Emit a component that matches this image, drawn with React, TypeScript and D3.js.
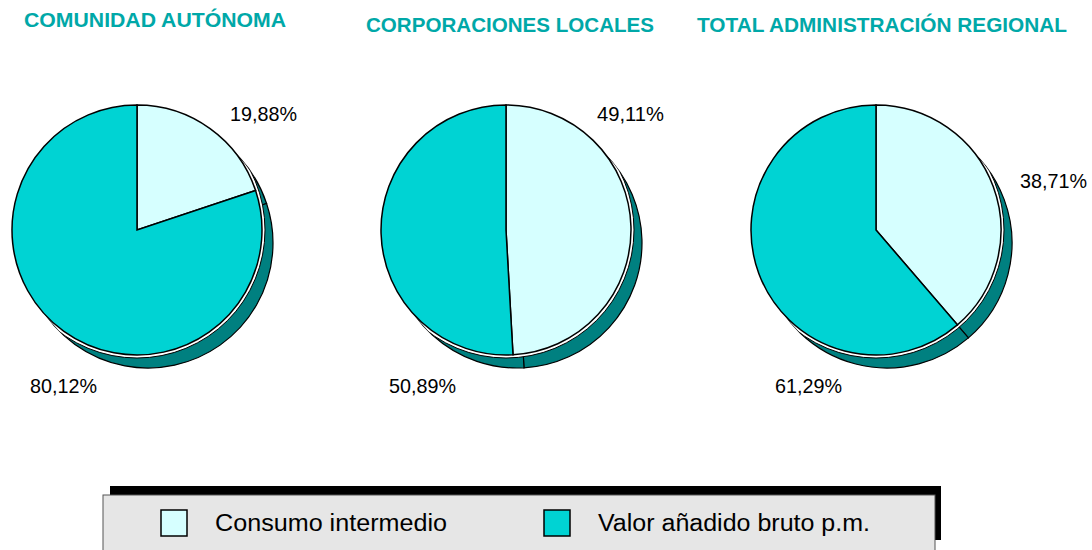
import React from "react";
import * as d3 from "d3";

// data
const titles = ["COMUNIDAD AUTÓNOMA", "CORPORACIONES LOCALES", "TOTAL ADMINISTRACIÓN REGIONAL"];
const seriesNames = ["Consumo intermedio", "Valor añadido bruto p.m."];
const consumoIntermedio = [19.88, 49.11, 38.71];
const valorAnadido = [80.12, 50.89, 61.29];

// layout only
const W = 1092;
const H = 550;
const centersX = [137, 506, 876];
const centerY = 230;
const R = 125;
const shadowDx = 11;
const shadowDy = 13;
const titleX = [24, 366, 697];
const titleY = [27, 32, 32];
const titleLen = [262, 288, 370];
// label anchor offsets (dx, dy) from each pie centre, [first slice, second slice]
const labelOffsets = [
  [[93, -109], [-107, 163]],
  [[91, -109], [-117, 163]],
  [[144, -42], [-101, 163]],
];

const colors = ["#d6ffff", "#00d3d3"];
const shadowColor = "#008080";
const titleColor = "#00a8a8";
const font = "'Liberation Sans', Arial, sans-serif";
const fmt = (v: number) => v.toFixed(2).replace(".", ",") + "%";

const pie = d3.pie<number>().sort(null).value((d) => d);
const arc = d3.arc<d3.PieArcDatum<number>>().innerRadius(0).outerRadius(R);

function PieChart({ i }: { i: number }) {
  const values = [consumoIntermedio[i], valorAnadido[i]];
  const arcs = pie(values);
  const cx = centersX[i];
  return (
    <g>
      <defs>
        <clipPath id={"shadowclip" + i}>
          <circle cx={cx + shadowDx} cy={centerY + shadowDy} r={R} />
        </clipPath>
      </defs>
      {/* shadow */}
      <g transform={`translate(${cx + shadowDx},${centerY + shadowDy})`}>
        {arcs.map((a, j) => (
          <path key={j} d={arc(a) || ""} fill={shadowColor} stroke="#000" strokeWidth={1.2} />
        ))}
      </g>
      <circle
        cx={cx}
        cy={centerY}
        r={R + 3}
        fill="#fff"
        stroke="#000"
        strokeWidth={1}
        clipPath={`url(#shadowclip${i})`}
      />
      <g transform={`translate(${cx},${centerY})`}>
        {arcs.map((a, j) => (
          <path key={j} d={arc(a) || ""} fill={colors[j]} stroke="#000" strokeWidth={1.5} />
        ))}
      </g>
      {arcs.map((a, j) => (
        <text
          key={"l" + j}
          x={cx + labelOffsets[i][j][0]}
          y={centerY + labelOffsets[i][j][1]}
          fontFamily={font}
          fontSize={21}
          fill="#000"
          textLength={67}
          lengthAdjust="spacingAndGlyphs"
        >
          {fmt(a.data)}
        </text>
      ))}
      <text
        x={titleX[i]}
        y={titleY[i]}
        fontFamily={font}
        fontWeight="bold"
        fontSize={20}
        fill={titleColor}
        textLength={titleLen[i]}
        lengthAdjust="spacingAndGlyphs"
      >
        {titles[i]}
      </text>
    </g>
  );
}

export default function App() {
  const legendX = [161, 544];
  const legendTextX = [215, 598];
  const legendTextLen = [232, 272];
  return (
    <svg
      width={W}
      height={H}
      style={{ position: "absolute", left: 0, top: 0, background: "#fff" }}
    >
      {titles.map((_, i) => (
        <PieChart key={i} i={i} />
      ))}
      {/* legend */}
      <rect x={110} y={486} width={831} height={54} fill="#000" />
      <rect x={103} y={495} width={832} height={70} fill="#e6e6e6" stroke="#555" strokeWidth={1} />
      {seriesNames.map((s, j) => (
        <g key={s}>
          <rect x={legendX[j]} y={510} width={26} height={26} fill={colors[j]} stroke="#000" strokeWidth={1.5} />
          <text
            x={legendTextX[j]}
            y={531}
            fontFamily={font}
            fontSize={23}
            fill="#000"
            textLength={legendTextLen[j]}
            lengthAdjust="spacingAndGlyphs"
          >
            {s}
          </text>
        </g>
      ))}
    </svg>
  );
}
